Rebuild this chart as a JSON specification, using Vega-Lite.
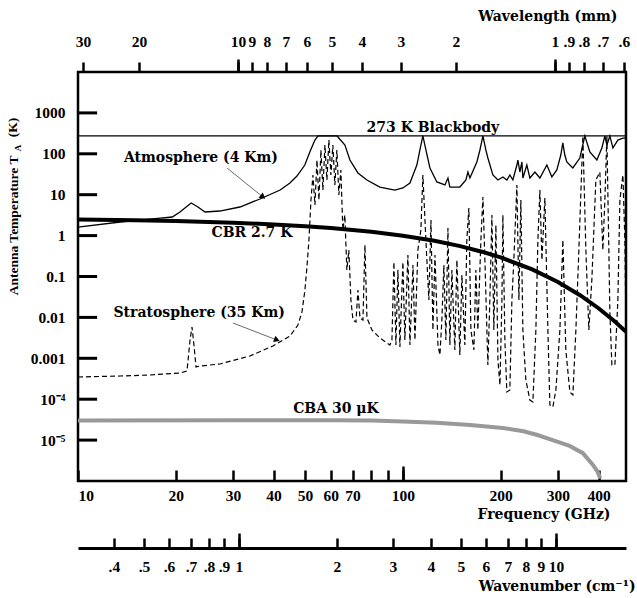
{
  "$schema": "https://vega.github.io/schema/vega-lite/v6.json",
  "width": 548,
  "height": 409,
  "autosize": {"type": "none"},
  "padding": {"left": 78, "top": 72, "right": 11, "bottom": 117},
  "background": "white",
  "config": {
    "view": {"stroke": "black", "strokeWidth": 2.5},
    "axis": {
      "labelFont": "Liberation Serif", "labelFontWeight": "bold", "labelFontSize": 15.5, "labelColor": "black",
      "titleFont": "DejaVu Serif", "titleFontWeight": "bold", "titleFontSize": 14, "titleColor": "black",
      "tickColor": "black", "tickWidth": 2.5, "grid": false, "domain": false,
      "labelOverlap": false, "labelFlush": false, "labelBound": false
    },
    "text": {"font": "DejaVu Serif", "fontWeight": "bold", "fontSize": 14, "color": "black"}
  },
  "datasets": {
    "blackbody": [{"f": 10, "T": 273}, {"f": 486, "T": 273}],
    "decades": [{"f": 10, "f2": 11.45, "T": 0.00001}, {"f": 10, "f2": 11.45, "T": 0.0001}, {"f": 10, "f2": 11.45, "T": 0.001}, {"f": 10, "f2": 11.45, "T": 0.01}, {"f": 10, "f2": 11.45, "T": 0.1}, {"f": 10, "f2": 11.45, "T": 1}, {"f": 10, "f2": 11.45, "T": 10}, {"f": 10, "f2": 11.45, "T": 100}, {"f": 10, "f2": 11.45, "T": 1000}],
    "atmosphere": [
      {"f": 10, "T": 1.62}, {"f": 13.5, "T": 2.15}, {"f": 17.9, "T": 2.69}, {"f": 19.5, "T": 2.85},
      {"f": 20.6, "T": 3.78}, {"f": 22.3, "T": 6.27}, {"f": 23.4, "T": 5.0}, {"f": 24.6, "T": 3.78},
      {"f": 27.3, "T": 3.99}, {"f": 31.5, "T": 5.0}, {"f": 36.3, "T": 7.85}, {"f": 41.9, "T": 13.0},
      {"f": 44.9, "T": 19.3}, {"f": 47.2, "T": 28.6}, {"f": 49.9, "T": 53.2}, {"f": 51.7, "T": 111},
      {"f": 53.6, "T": 217}, {"f": 54.8, "T": 273}, {"f": 62.7, "T": 273}, {"f": 66.3, "T": 164},
      {"f": 68.7, "T": 70.5}, {"f": 72.7, "T": 34.0}, {"f": 77.5, "T": 22.9}, {"f": 84.9, "T": 15.4},
      {"f": 94.4, "T": 13.0}, {"f": 100, "T": 14.6}, {"f": 105.1, "T": 19.3}, {"f": 110.4, "T": 53.2},
      {"f": 112.8, "T": 124}, {"f": 115.2, "T": 273}, {"f": 117.7, "T": 124}, {"f": 121.1, "T": 45},
      {"f": 127.2, "T": 20.5}, {"f": 134.7, "T": 17.3}, {"f": 137.6, "T": 25.6}, {"f": 139.5, "T": 15.4},
      {"f": 149.7, "T": 15.4}, {"f": 156.3, "T": 22.9}, {"f": 158.5, "T": 35.9}, {"f": 160.8, "T": 25.6},
      {"f": 168.9, "T": 63.1}, {"f": 172.6, "T": 124}, {"f": 176.3, "T": 273}, {"f": 180.0, "T": 124},
      {"f": 182.6, "T": 78.9}, {"f": 189.2, "T": 30.3}, {"f": 196.1, "T": 22.9}, {"f": 203.1, "T": 27.1},
      {"f": 208.9, "T": 22.9}, {"f": 213.4, "T": 30.3}, {"f": 218, "T": 22.9}, {"f": 224.3, "T": 53.2},
      {"f": 225.9, "T": 70.5}, {"f": 229.1, "T": 35.9}, {"f": 232.4, "T": 63.1}, {"f": 234, "T": 25.6},
      {"f": 240.7, "T": 53.2}, {"f": 245.9, "T": 25.6}, {"f": 254.8, "T": 35.9}, {"f": 264, "T": 25.6},
      {"f": 277.4, "T": 53.2}, {"f": 287.4, "T": 27.1}, {"f": 297.7, "T": 40.2}, {"f": 306.2, "T": 93.5},
      {"f": 310.6, "T": 184}, {"f": 315, "T": 93.5}, {"f": 319.5, "T": 63.1}, {"f": 333.4, "T": 45},
      {"f": 350.4, "T": 78.9}, {"f": 363.1, "T": 273}, {"f": 376.2, "T": 111}, {"f": 395.3, "T": 70.5},
      {"f": 409.6, "T": 139}, {"f": 418.4, "T": 273}, {"f": 424.4, "T": 164}, {"f": 433.5, "T": 273},
      {"f": 442.9, "T": 139}, {"f": 458.8, "T": 217}, {"f": 475.4, "T": 243}, {"f": 486, "T": 243}
    ],
    "stratosphere": [
      {"f": 10, "T": 0.000349}, {"f": 13.47, "T": 0.000369}, {"f": 16.65, "T": 0.000391}, {"f": 20.6, "T": 0.000437},
      {"f": 21.65, "T": 0.000489}, {"f": 22.12, "T": 0.0028}, {"f": 22.43, "T": 0.00582}, {"f": 22.75, "T": 0.00211},
      {"f": 23.08, "T": 0.000612}, {"f": 23.74, "T": 0.000648}, {"f": 27.35, "T": 0.000726}, {"f": 33.82, "T": 0.00114},
      {"f": 39.81, "T": 0.002}, {"f": 44.92, "T": 0.00351}, {"f": 47.53, "T": 0.00652}, {"f": 48.9, "T": 0.0136},
      {"f": 49.94, "T": 0.0468}, {"f": 50.66, "T": 0.171}, {"f": 51.38, "T": 0.78}, {"f": 52.12, "T": 7.41},
      {"f": 52.86, "T": 30.3}, {"f": 53.61, "T": 5.6}, {"f": 54.38, "T": 70.5}, {"f": 55.15, "T": 7.41},
      {"f": 55.94, "T": 124}, {"f": 56.73, "T": 13}, {"f": 57.54, "T": 164}, {"f": 58.36, "T": 22.9},
      {"f": 59.19, "T": 217}, {"f": 60.03, "T": 30.3}, {"f": 60.88, "T": 164}, {"f": 61.75, "T": 17.3},
      {"f": 62.63, "T": 124}, {"f": 63.52, "T": 9.84}, {"f": 64.42, "T": 40.2}, {"f": 65.34, "T": 1.37},
      {"f": 66.27, "T": 3.19}, {"f": 67.21, "T": 0.144}, {"f": 68.17, "T": 0.445}, {"f": 69.18, "T": 0.0266},
      {"f": 70.19, "T": 0.00863}, {"f": 71.7, "T": 0.00772}, {"f": 72.71, "T": 0.0468}, {"f": 73.76, "T": 0.00967},
      {"f": 75.34, "T": 0.00863}, {"f": 76.41, "T": 0.589}, {"f": 77.5, "T": 0.00967}, {"f": 80.3, "T": 0.00492},
      {"f": 84.97, "T": 0.00313}, {"f": 91.2, "T": 0.00211}, {"f": 92.51, "T": 0.0028}, {"f": 93.82, "T": 0.226},
      {"f": 95.17, "T": 0.00211}, {"f": 96.52, "T": 0.144}, {"f": 97.9, "T": 0.00189}, {"f": 100, "T": 0.226},
      {"f": 101.4, "T": 0.0028}, {"f": 103.6, "T": 0.336}, {"f": 105.1, "T": 0.00211}, {"f": 107.4, "T": 0.191},
      {"f": 108.9, "T": 0.0028}, {"f": 111.2, "T": 0.445}, {"f": 113.6, "T": 1.37}, {"f": 115.2, "T": 30.3},
      {"f": 117.7, "T": 0.78}, {"f": 120.2, "T": 0.0266}, {"f": 122, "T": 2.4}, {"f": 123.7, "T": 0.00492},
      {"f": 125.5, "T": 0.336}, {"f": 128.2, "T": 0.00211}, {"f": 130, "T": 0.0012}, {"f": 131.8, "T": 0.00863},
      {"f": 133.7, "T": 0.191}, {"f": 135.6, "T": 0.0028}, {"f": 137.6, "T": 1.53}, {"f": 139.5, "T": 0.00211},
      {"f": 141.5, "T": 0.144}, {"f": 144.5, "T": 0.0016}, {"f": 146.6, "T": 0.253}, {"f": 149.7, "T": 0.0012},
      {"f": 151.9, "T": 0.109}, {"f": 155.1, "T": 0.00211}, {"f": 157.3, "T": 0.78}, {"f": 159.6, "T": 4.73},
      {"f": 161.9, "T": 0.00492}, {"f": 165.4, "T": 0.0016}, {"f": 167.7, "T": 0.144}, {"f": 170.1, "T": 0.00492},
      {"f": 173.8, "T": 0.78}, {"f": 176.3, "T": 8.79}, {"f": 178.8, "T": 0.253}, {"f": 182.6, "T": 0.000686},
      {"f": 185.2, "T": 0.0266}, {"f": 187.9, "T": 3.19}, {"f": 190.5, "T": 0.00492}, {"f": 193.3, "T": 1.82},
      {"f": 196.1, "T": 0.000908}, {"f": 198.9, "T": 0.000222}, {"f": 201.7, "T": 0.0266}, {"f": 203.1, "T": 3.19},
      {"f": 206, "T": 0.0028}, {"f": 208.9, "T": 0.00015}, {"f": 213.4, "T": 0.000168}, {"f": 216.5, "T": 0.0266},
      {"f": 219.5, "T": 0.253}, {"f": 224.3, "T": 17.3}, {"f": 227.5, "T": 0.0266}, {"f": 230.7, "T": 7.41},
      {"f": 234, "T": 0.00492}, {"f": 239, "T": 0.000294}, {"f": 245.9, "T": 0.0000955}, {"f": 251.2, "T": 0.0000855},
      {"f": 256.6, "T": 0.00492}, {"f": 260.3, "T": 0.78}, {"f": 264, "T": 13}, {"f": 267.8, "T": 0.253},
      {"f": 273.5, "T": 8.3}, {"f": 279.4, "T": 0.00492}, {"f": 283.4, "T": 0.0000722}, {"f": 289.4, "T": 0.0000645},
      {"f": 295.7, "T": 0.000168}, {"f": 304.2, "T": 0.00492}, {"f": 310.7, "T": 0.78}, {"f": 317.3, "T": 0.0016},
      {"f": 326.5, "T": 0.00015}, {"f": 333.5, "T": 0.000127}, {"f": 340.7, "T": 0.00492}, {"f": 348, "T": 0.445},
      {"f": 358, "T": 272}, {"f": 365.7, "T": 0.445}, {"f": 373.5, "T": 0.00492}, {"f": 381.5, "T": 0.0821},
      {"f": 392.5, "T": 22.9}, {"f": 403.8, "T": 35.9}, {"f": 412.5, "T": 0.445}, {"f": 418.4, "T": 7.41},
      {"f": 424.4, "T": 272}, {"f": 430.4, "T": 0.445}, {"f": 433.5, "T": 0.0136}, {"f": 439.7, "T": 0.000686},
      {"f": 449.2, "T": 0.000686}, {"f": 458.8, "T": 0.0266}, {"f": 465.4, "T": 7.41}, {"f": 475.4, "T": 30.3},
      {"f": 482.2, "T": 0.78}, {"f": 485.6, "T": 0.00863}
    ],
    "cbr": [
      {"f": 10, "T": 2.492}, {"f": 15, "T": 2.381}, {"f": 20, "T": 2.273}, {"f": 30, "T": 2.068},
      {"f": 40, "T": 1.877}, {"f": 50, "T": 1.699}, {"f": 60, "T": 1.534}, {"f": 80, "T": 1.242},
      {"f": 100, "T": 0.9958}, {"f": 125, "T": 0.7463}, {"f": 150, "T": 0.5522}, {"f": 175, "T": 0.4038},
      {"f": 200, "T": 0.2921}, {"f": 250, "T": 0.1487}, {"f": 300, "T": 0.07345}, {"f": 350, "T": 0.03541},
      {"f": 400, "T": 0.01675}, {"f": 450, "T": 0.007805}, {"f": 486, "T": 0.004471}
    ],
    "cba": [
      {"f": 10, "T": 0.00003}, {"f": 30, "T": 0.0000305}, {"f": 60, "T": 0.0000305}, {"f": 80, "T": 0.00003},
      {"f": 100, "T": 0.0000285}, {"f": 127, "T": 0.0000265}, {"f": 161, "T": 0.0000235}, {"f": 203, "T": 0.0000198},
      {"f": 235, "T": 0.0000165}, {"f": 258, "T": 0.0000135}, {"f": 289, "T": 0.00001}, {"f": 326, "T": 0.0000072},
      {"f": 358, "T": 0.0000048}, {"f": 384, "T": 0.0000025}, {"f": 397, "T": 0.0000017}, {"f": 405, "T": 0.00000115}
    ],
    "labels": [
      {"f": 123.7, "T": 428, "txt": "273 K  Blackbody"},
      {"f": 23.9, "T": 78.9, "txt": "Atmosphere (4 Km)"},
      {"f": 34.3, "T": 1.157, "txt": "CBR 2.7 K"},
      {"f": 23.6, "T": 0.01282, "txt": "Stratosphere (35 Km)"},
      {"f": 62.2, "T": 0.0000575, "txt": "CBA 30 μK"}
    ],
    "arrows": [
      {"f": 28.74, "T": 45.0, "f2": 37.09, "T2": 8.79},
      {"f": 29.99, "T": 0.00729, "f2": 40.96, "T2": 0.0028}
    ],
    "ytitle": [
      {"f": 6.31, "T": 439.5, "txt": "(K)"},
      {"f": 6.54, "T": 138.7, "txt": "A"}
    ]
  },
  "encoding": {
    "y": {"field": "T", "type": "quantitative", "scale": {"type": "log", "domain": [0.000001, 10000]},
      "axis": {"orient": "left", "values": [0.00001, 0.0001, 0.001, 0.01, 0.1, 1, 10, 100, 1000],
        "labelExpr": "['10⁻⁵','10⁻⁴','0.001','0.01','0.1','1','10','100','1000'][indexof([0.00001, 0.0001, 0.001, 0.01, 0.1, 1, 10, 100, 1000], datum.value)]",
        "ticks": false, "labelPadding": 13,
        "title": "Antenna Temperature T", "titleFont": "Liberation Serif", "titleFontSize": 13.5,
        "titleX": -65, "titleY": 83, "titleAngle": 270, "titleAlign": "right", "titleBaseline": "middle"}}
  },
  "layer": [
    {
      "data": {"name": "decades"},
      "mark": {"type": "rule", "stroke": "black", "strokeWidth": 3},
      "encoding": {
        "x": {"field": "f", "type": "quantitative", "scale": {"type": "log", "domain": [10, 486]}, "axis": null},
        "x2": {"field": "f2"}
      }
    },
    {
      "data": {"name": "blackbody"},
      "mark": {"type": "line", "color": "black", "strokeWidth": 1.2},
      "encoding": {
        "x": {"field": "f", "type": "quantitative", "scale": {"type": "log", "domain": [10, 486]},
          "axis": {"orient": "bottom", "values": [10, 20, 30, 40, 50, 60, 70, 80, 90, 100, 200, 300, 400],
            "labelExpr": "indexof([80, 90], datum.value) >= 0 ? '' : format(datum.value, 'd')",
            "tickSize": -11, "labelPadding": 18, "labelFlush": true,
            "title": "Frequency (GHz)", "titleX": 532, "titleY": 33, "titleAlign": "right", "titleBaseline": "middle"}}
      }
    },
    {
      "data": {"name": "atmosphere"},
      "mark": {"type": "line", "color": "black", "strokeWidth": 1.3},
      "encoding": {
        "x": {"field": "f", "type": "quantitative", "scale": {"type": "log", "domain": [10, 486]},
          "axis": {"orient": "top",
            "values": [10.36, 15.41, 31.07, 34.3, 38.15, 43.65, 50.66, 60.46, 74.8, 98.59, 145.6, 293.6, 324.2, 360.6, 412.4, 478.6],
            "labelExpr": "['30','20','10','9','8','7','6','5','4','3','2','1','.9','.8','.7','.6'][indexof([10.36, 15.41, 31.07, 34.3, 38.15, 43.65, 50.66, 60.46, 74.8, 98.59, 145.6, 293.6, 324.2, 360.6, 412.4, 478.6], datum.value)]",
            "tickSize": 10, "labelPadding": 13,
            "title": "Wavelength (mm)", "titleX": 539, "titleY": -56, "titleAlign": "right", "titleBaseline": "middle"}}
      }
    },
    {
      "data": {"name": "stratosphere"},
      "mark": {"type": "line", "color": "black", "strokeWidth": 1.2, "strokeDash": [5, 3]},
      "encoding": {
        "x": {"field": "f", "type": "quantitative", "scale": {"type": "log", "domain": [10, 486]},
          "axis": {"orient": "top", "values": [31.07, 293.6], "tickSize": 13, "labels": false, "title": null}}
      }
    },
    {
      "data": {"name": "cbr"},
      "mark": {"type": "line", "color": "black", "strokeWidth": 4},
      "encoding": {
        "x": {"field": "f", "type": "quantitative", "scale": {"type": "log", "domain": [10, 486]},
          "axis": {"orient": "bottom", "offset": 67,
            "values": [12.9, 15.96, 19.05, 22.27, 25.3, 28.13, 31.29, 62.65, 93.16, 121.9, 150.8, 180, 210.4, 239.1, 265.9, 295.7],
            "labelExpr": "['.4','.5','.6','.7','.8','.9','1','2','3','4','5','6','7','8','9','10'][indexof([12.9, 15.96, 19.05, 22.27, 25.3, 28.13, 31.29, 62.65, 93.16, 121.9, 150.8, 180, 210.4, 239.1, 265.9, 295.7], datum.value)]",
            "tickSize": -10, "labelPadding": 21, "domain": true, "domainColor": "black", "domainWidth": 3,
            "title": "Wavenumber (cm⁻¹)", "titleX": 557, "titleY": 38, "titleAlign": "right", "titleBaseline": "middle"}}
      }
    },
    {
      "data": {"name": "cba"},
      "mark": {"type": "line", "color": "#999999", "strokeWidth": 4},
      "encoding": {
        "x": {"field": "f", "type": "quantitative", "scale": {"type": "log", "domain": [10, 486]},
          "axis": {"orient": "bottom", "offset": 67, "values": [31.29, 295.7], "tickSize": -15, "labels": false, "title": null}}
      }
    },
    {
      "data": {"name": "labels"},
      "mark": {"type": "text", "align": "center", "baseline": "middle"},
      "encoding": {
        "x": {"field": "f", "type": "quantitative", "scale": {"type": "log", "domain": [10, 486]},
          "axis": {"orient": "bottom", "values": [100], "tickSize": -15, "labels": false, "title": null}},
        "text": {"field": "txt"}
      }
    },
    {
      "data": {"name": "arrows"},
      "mark": {"type": "rule", "color": "#444444", "strokeWidth": 0.8},
      "encoding": {
        "x": {"field": "f", "type": "quantitative", "scale": {"type": "log", "domain": [10, 486]}, "axis": null},
        "x2": {"field": "f2"},
        "y2": {"field": "T2"}
      }
    },
    {
      "data": {"values": [{"f": 37.09, "T": 8.79}]},
      "mark": {"type": "point", "shape": "triangle-up", "filled": true, "size": 45, "color": "black", "opacity": 1, "angle": 129},
      "encoding": {
        "x": {"field": "f", "type": "quantitative", "scale": {"type": "log", "domain": [10, 486]}, "axis": null}
      }
    },
    {
      "data": {"values": [{"f": 40.96, "T": 0.0028}]},
      "mark": {"type": "point", "shape": "triangle-up", "filled": true, "size": 45, "color": "black", "opacity": 1, "angle": 111},
      "encoding": {
        "x": {"field": "f", "type": "quantitative", "scale": {"type": "log", "domain": [10, 486]}, "axis": null}
      }
    },
    {
      "data": {"name": "ytitle"},
      "mark": {"type": "text", "align": "center", "baseline": "middle", "angle": 270, "font": "Liberation Serif"},
      "encoding": {
        "x": {"field": "f", "type": "quantitative", "scale": {"type": "log", "domain": [10, 486]}, "axis": null},
        "text": {"field": "txt"},
        "size": {"condition": {"test": "datum.txt === 'A'", "value": 9}, "value": 13.5}
      }
    }
  ],
  "resolve": {"axis": {"x": "independent"}}
}
